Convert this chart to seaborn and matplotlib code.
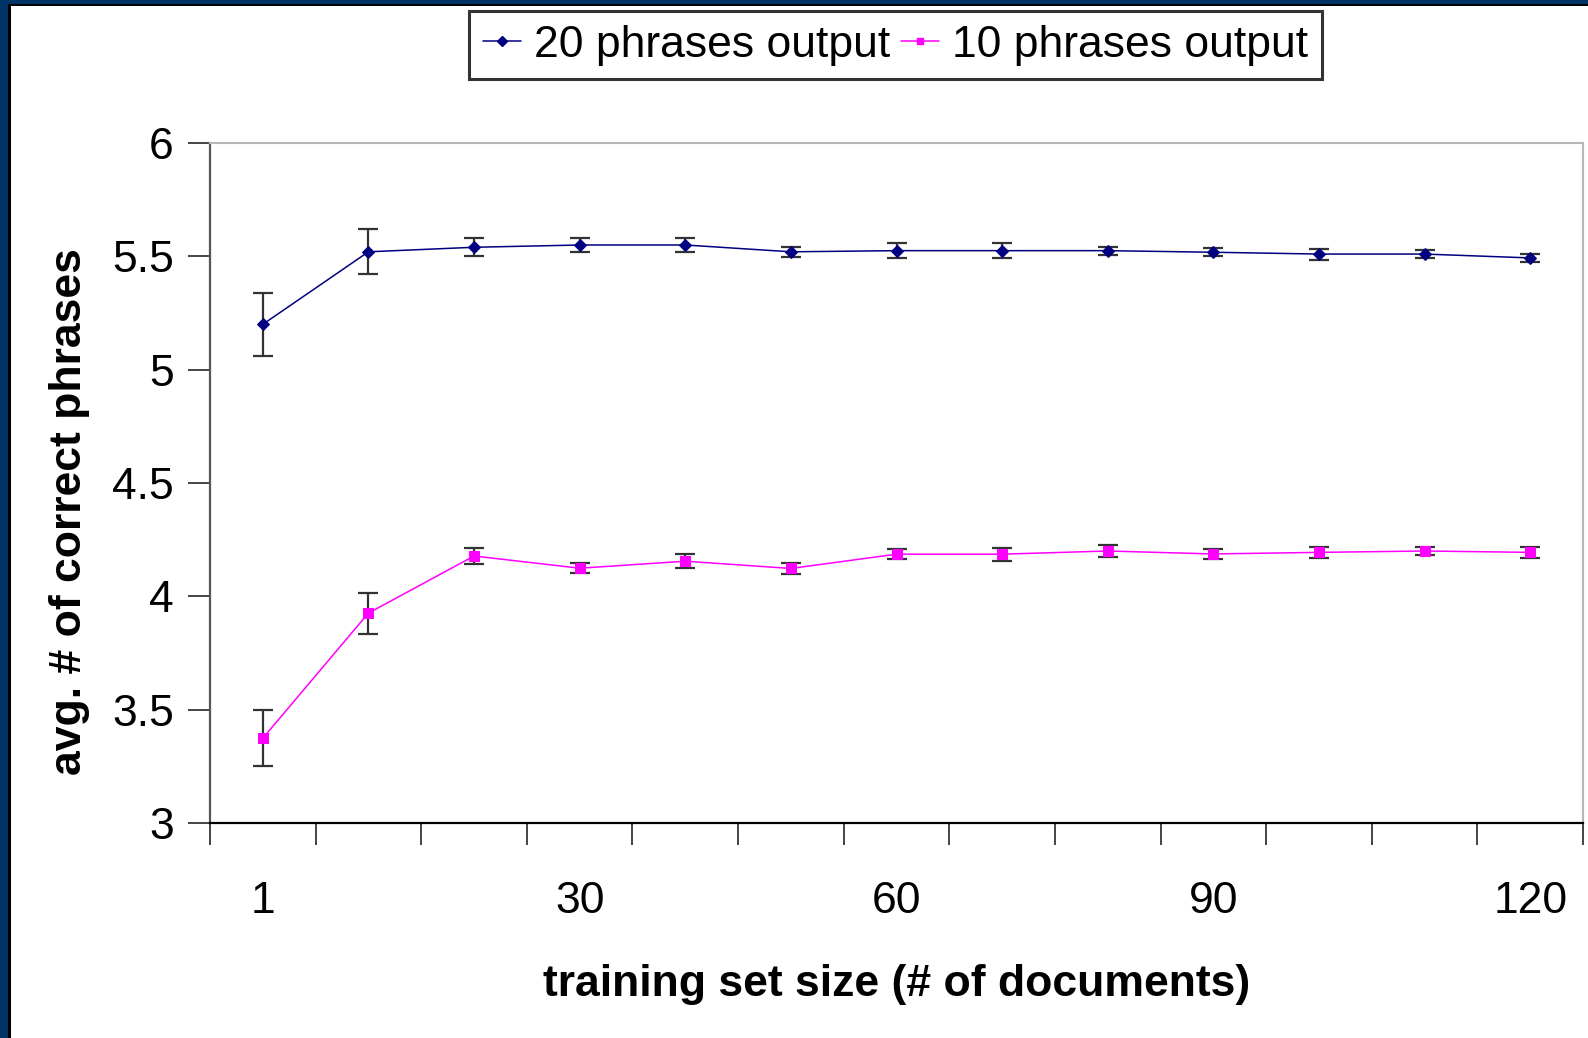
import numpy as np
import pandas as pd
import matplotlib
matplotlib.use("Agg")
import matplotlib.pyplot as plt
from matplotlib.patches import Rectangle
from matplotlib.lines import Line2D
import seaborn as sns

# ---- data ----
sizes = [1, 10, 20, 30, 40, 50, 60, 70, 80, 90, 100, 110, 120]
tick_labels = ["1", "30", "60", "90", "120"]
out20 = [5.20, 5.52, 5.54, 5.55, 5.55, 5.52, 5.525, 5.525, 5.525, 5.518, 5.51, 5.51, 5.493]
out20_err = [0.138, 0.10, 0.04, 0.03, 0.03, 0.022, 0.032, 0.032, 0.018, 0.018, 0.024, 0.016, 0.018]
out10 = [3.374, 3.926, 4.178, 4.124, 4.155, 4.123, 4.186, 4.186, 4.20, 4.187, 4.194, 4.20, 4.194]
out10_err = [0.123, 0.09, 0.036, 0.022, 0.031, 0.024, 0.022, 0.029, 0.025, 0.022, 0.024, 0.018, 0.024]
series_names = ["20 phrases output", "10 phrases output"]
y_ticks = [3, 3.5, 4, 4.5, 5, 5.5, 6]

sns.set_style("white")
plt.rcParams["font.family"] = ["Liberation Sans", "DejaVu Sans"]
plt.rcParams["text.color"] = "black"
plt.rcParams["axes.labelcolor"] = "black"
plt.rcParams["xtick.color"] = "black"
plt.rcParams["ytick.color"] = "black"

pos = np.arange(len(sizes))
df = pd.DataFrame({
    "pos": np.concatenate([pos, pos]),
    "value": out20 + out10,
    "series": [series_names[0]] * len(sizes) + [series_names[1]] * len(sizes),
})

colors = {series_names[0]: "#000080", series_names[1]: "#FF00FF"}
markers = {series_names[0]: "D", series_names[1]: "s"}
msizes = {series_names[0]: 6, series_names[1]: 7}

fig = plt.figure(figsize=(15.88, 10.38), dpi=100)
ax = fig.add_axes([210 / 1588, 1 - 823 / 1038, (1583 - 210) / 1588, (823 - 143) / 1038])

# error bars first (behind markers)
for vals, errs in [(out20, out20_err), (out10, out10_err)]:
    ax.errorbar(pos, vals, yerr=errs, fmt="none", ecolor="#333333",
                elinewidth=1.6, capsize=7, capthick=1.6, zorder=2)

for name in series_names:
    sub = df[df["series"] == name]
    sns.lineplot(data=sub, x="pos", y="value", ax=ax, color=colors[name],
                 marker=markers[name], markersize=msizes[name],
                 markeredgecolor=colors[name], linewidth=1.1, zorder=3,
                 legend=False)

ax.set_xlim(-0.5, len(sizes) - 0.5)
ax.set_ylim(3, 6)
ax.set_yticks(y_ticks)
ax.set_yticklabels([f"{t:g}" for t in y_ticks])
ax.set_xticks([0, 3, 6, 9, 12])
ax.set_xticklabels(tick_labels)
ax.set_xticks(np.arange(-0.5, len(sizes), 1.0), minor=True)
ax.tick_params(axis="x", which="both", bottom=True)
ax.tick_params(axis="y", which="both", left=True)
ax.tick_params(axis="x", which="major", length=0, labelsize=32, pad=42, labelcolor="black")
ax.tick_params(axis="x", which="minor", length=16, width=1.4, color="#444444", direction="out")
ax.tick_params(axis="y", which="major", length=16, width=1.4, color="#444444",
               direction="out", labelsize=32, pad=10, labelcolor="black")

for s in ["top", "right"]:
    ax.spines[s].set_visible(True)
    ax.spines[s].set_color("#b8b8b8")
    ax.spines[s].set_linewidth(1.5)
ax.spines["left"].set_color("#555555")
ax.spines["left"].set_linewidth(1.6)
ax.spines["bottom"].set_color("#000000")
ax.spines["bottom"].set_linewidth(1.6)

ax.set_xlabel("training set size (# of documents)", fontsize=32, fontweight="bold",
              labelpad=30, color="black")
ax.set_ylabel("avg. # of correct phrases", fontsize=32, fontweight="bold",
              labelpad=16, color="black")
ax.yaxis.label.set_y(0.458)

handles = [Line2D([0], [0], color=colors[n], marker=markers[n], markersize=5, linewidth=1.1)
           for n in series_names]
leg = fig.legend(handles, series_names, loc="upper center", bbox_to_anchor=(0.564, 0.989),
                 ncol=2, fontsize=32, frameon=True, fancybox=False, edgecolor="black",
                 handlelength=0.85, handletextpad=0.3, columnspacing=0.25,
                 borderpad=0.3, borderaxespad=0)
leg.get_frame().set_linewidth(2.2)
for t in leg.get_texts():
    t.set_color("black")

# navy slide frame (top and left)
fig.patches.append(Rectangle((0, 1 - 4 / 1038), 1, 4 / 1038, transform=fig.transFigure,
                             facecolor="#003366", edgecolor="none", zorder=10))
fig.patches.append(Rectangle((0, 1 - 6 / 1038), 1, 2.5 / 1038, transform=fig.transFigure,
                             facecolor="#000000", edgecolor="none", zorder=10))
fig.patches.append(Rectangle((0, 0), 8 / 1588, 1, transform=fig.transFigure,
                             facecolor="#003366", edgecolor="none", zorder=10))
fig.patches.append(Rectangle((8 / 1588, 0), 2.5 / 1588, 1 - 4 / 1038, transform=fig.transFigure,
                             facecolor="#000000", edgecolor="none", zorder=10))

fig.savefig("out.png", dpi=100)
